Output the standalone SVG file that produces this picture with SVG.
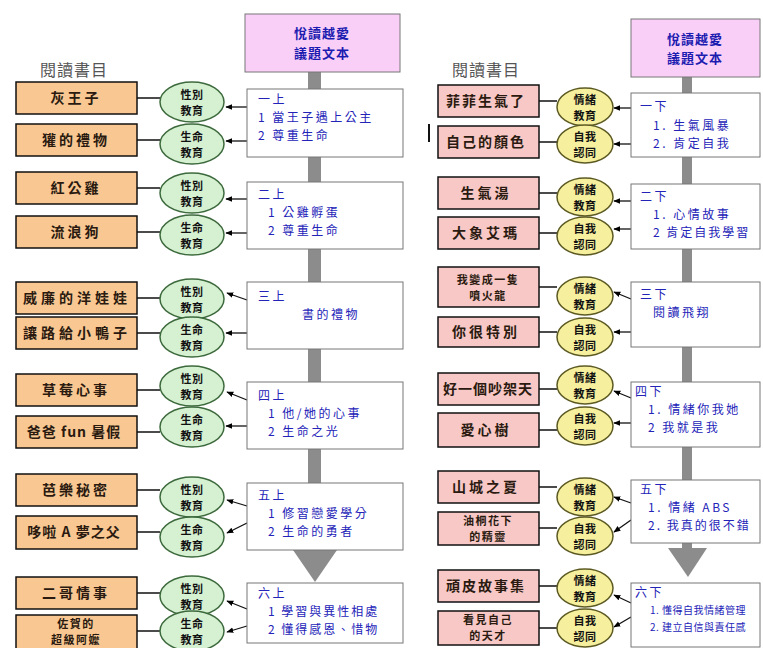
<svg xmlns="http://www.w3.org/2000/svg" width="763" height="648" viewBox="0 0 763 648">
<defs>
<marker id="ah" viewBox="0 0 10 10" refX="9" refY="5" markerWidth="7" markerHeight="7" markerUnits="userSpaceOnUse" orient="auto"><path d="M0,1 L10,5 L0,9 Z" fill="#000"/></marker>
<style>
text{font-family:"Noto Sans CJK TC","Noto Sans CJK SC",sans-serif}
.book{fill:#F9C792;stroke:#111;stroke-width:1.5}
.bookp{fill:#F8C8C6;stroke:#111;stroke-width:1.5}
.bt{font-size:14px;font-weight:bold;fill:#2a1a10;text-anchor:middle;letter-spacing:3px}
.b2{font-size:11px;font-weight:bold;fill:#2a1a10;text-anchor:middle;letter-spacing:1.5px}
.eg{fill:#D6F0D2;stroke:#3D6A3D;stroke-width:1.5}
.ey{fill:#F6F09E;stroke:#5C5A22;stroke-width:1.5}
.et{font-size:11px;font-weight:bold;fill:#111;text-anchor:middle;letter-spacing:0.5px}
.wb{fill:#fff;stroke:#777;stroke-width:1}
.wt{font-size:12px;fill:#2323B8;letter-spacing:2.5px}
.ws{font-size:10px;fill:#2323B8;letter-spacing:0.5px}
.top{fill:#F9CFF8;stroke:#777;stroke-width:1}
.tt{font-size:13px;font-weight:bold;fill:#1C1CB0;text-anchor:middle;letter-spacing:1px}
.hd{font-size:16px;fill:#555;letter-spacing:1px}
.ln{stroke:#111;stroke-width:1.3;fill:none}
.ar{stroke:#111;stroke-width:1.3;fill:none;marker-end:url(#ah)}
.bar{fill:#8C8C8C}
</style>
</defs>
<rect width="763" height="648" fill="#fff"/>

<g id="spine-left">
<rect class="bar" x="308" y="72" width="13" height="480"/>
<path class="bar" d="M293,550 L337,550 L315,582 Z"/>
</g>
<g id="spine-right">
<rect class="bar" x="682" y="77" width="10" height="473"/>
<path class="bar" d="M668,548 L707,548 L688,577 Z"/>
</g>

<text class="hd" x="40" y="76">閱讀書目</text>
<text class="hd" x="452" y="76">閱讀書目</text>
<rect x="428" y="124" width="2" height="18" fill="#111"/>

<g id="top-left"><rect class="top" x="245" y="14" width="155" height="58"/><text class="tt" x="322" y="38">悅讀越愛<tspan x="322" dy="20">議題文本</tspan></text></g>
<g id="top-right"><rect class="top" x="631" y="19" width="129" height="58"/><text class="tt" x="695" y="44">悅讀越愛<tspan x="695" dy="19">議題文本</tspan></text></g>

<g id="connectors">
<path class="ln" d="M137,98H160M137,140H160M137,188H160M137,232H160M137,298H160M137,333H160M137,390H160M137,432H160M137,490H160M137,532H160M137,593H160M137,631H160"/>
<path class="ar" d="M247,107H226"/><path class="ar" d="M247,141H226"/>
<path class="ar" d="M247,199H226"/><path class="ar" d="M247,233H226"/>
<path class="ar" d="M247,300L227,293"/><path class="ar" d="M247,333H226"/>
<path class="ar" d="M247,400L227,392"/><path class="ar" d="M247,426H226"/>
<path class="ar" d="M247,506L227,500"/><path class="ar" d="M247,523L227,533"/>
<path class="ar" d="M247,609L227,601"/><path class="ar" d="M247,626L227,632"/>
<path class="ln" d="M539,101H557M539,142H557M539,193H557M539,233H557M539,287H557M539,332H557M539,389H557M539,430H557M539,487H557M539,528H557M539,586H557M539,628H557"/>
<path class="ar" d="M631,108H614"/><path class="ar" d="M631,144H614"/>
<path class="ar" d="M631,201H614"/><path class="ar" d="M631,229H614"/>
<path class="ar" d="M631,299L614,292"/><path class="ar" d="M631,332H614"/>
<path class="ar" d="M631,398L614,391"/><path class="ar" d="M631,423H614"/>
<path class="ar" d="M631,503L614,497"/><path class="ar" d="M631,520L614,532"/>
<path class="ar" d="M631,603L614,595"/><path class="ar" d="M631,617L614,627"/>
</g>

<g id="b-l1"><rect class="book" x="16" y="82" width="121" height="32"/><text class="bt" x="76" y="103">灰王子</text></g>
<g id="b-l2"><rect class="book" x="16" y="124" width="121" height="32"/><text class="bt" x="76" y="145">獾的禮物</text></g>
<g id="b-l3"><rect class="book" x="16" y="172" width="121" height="32"/><text class="bt" x="76" y="193">紅公雞</text></g>
<g id="b-l4"><rect class="book" x="16" y="216" width="121" height="32"/><text class="bt" x="76" y="237">流浪狗</text></g>
<g id="b-l5"><rect class="book" x="16" y="282" width="121" height="32"/><text class="bt" x="77" y="303" style="letter-spacing:4px">威廉的洋娃娃</text></g>
<g id="b-l6"><rect class="book" x="16" y="317" width="121" height="32"/><text class="bt" x="77" y="338" style="letter-spacing:4px">讓路給小鴨子</text></g>
<g id="b-l7"><rect class="book" x="16" y="374" width="121" height="32"/><text class="bt" x="76" y="395">草莓心事</text></g>
<g id="b-l8"><rect class="book" x="16" y="416" width="121" height="32"/><text class="bt" x="74" y="437" style="letter-spacing:1px">爸爸 fun 暑假</text></g>
<g id="b-l9"><rect class="book" x="16" y="474" width="121" height="32"/><text class="bt" x="76" y="495">芭樂秘密</text></g>
<g id="b-l10"><rect class="book" x="16" y="516" width="121" height="33"/><text class="bt" x="74" y="537" style="letter-spacing:1px">哆啦 A 夢之父</text></g>
<g id="b-l11"><rect class="book" x="16" y="577" width="121" height="32"/><text class="bt" x="76" y="598">二哥情事</text></g>
<g id="b-l12"><rect class="book" x="16" y="615" width="121" height="40"/><text class="b2" x="76" y="628">佐賀的<tspan x="76" dy="16">超級阿嬤</tspan></text></g>

<g id="e-l1"><ellipse class="eg" cx="192" cy="102" rx="32" ry="20"/><text class="et" x="192" y="99">性別<tspan x="192" dy="16">教育</tspan></text></g>
<g id="e-l2"><ellipse class="eg" cx="192" cy="144" rx="32" ry="20"/><text class="et" x="192" y="141">生命<tspan x="192" dy="16">教育</tspan></text></g>
<g id="e-l3"><ellipse class="eg" cx="192" cy="193" rx="32" ry="20"/><text class="et" x="192" y="190">性別<tspan x="192" dy="16">教育</tspan></text></g>
<g id="e-l4"><ellipse class="eg" cx="192" cy="235" rx="32" ry="20"/><text class="et" x="192" y="232">生命<tspan x="192" dy="16">教育</tspan></text></g>
<g id="e-l5"><ellipse class="eg" cx="192" cy="299" rx="32" ry="20"/><text class="et" x="192" y="296">性別<tspan x="192" dy="16">教育</tspan></text></g>
<g id="e-l6"><ellipse class="eg" cx="192" cy="337" rx="32" ry="20"/><text class="et" x="192" y="334">生命<tspan x="192" dy="16">教育</tspan></text></g>
<g id="e-l7"><ellipse class="eg" cx="192" cy="386" rx="32" ry="20"/><text class="et" x="192" y="383">性別<tspan x="192" dy="16">教育</tspan></text></g>
<g id="e-l8"><ellipse class="eg" cx="192" cy="427" rx="32" ry="20"/><text class="et" x="192" y="424">生命<tspan x="192" dy="16">教育</tspan></text></g>
<g id="e-l9"><ellipse class="eg" cx="192" cy="497" rx="32" ry="20"/><text class="et" x="192" y="494">性別<tspan x="192" dy="16">教育</tspan></text></g>
<g id="e-l10"><ellipse class="eg" cx="192" cy="537" rx="32" ry="20"/><text class="et" x="192" y="534">生命<tspan x="192" dy="16">教育</tspan></text></g>
<g id="e-l11"><ellipse class="eg" cx="192" cy="596" rx="32" ry="20"/><text class="et" x="192" y="593">性別<tspan x="192" dy="16">教育</tspan></text></g>
<g id="e-l12"><ellipse class="eg" cx="192" cy="631" rx="32" ry="20"/><text class="et" x="192" y="628">生命<tspan x="192" dy="16">教育</tspan></text></g>

<g id="w-l1"><rect class="wb" x="247" y="89" width="156" height="68"/><text class="wt" x="258" y="104">一上</text><text class="wt" x="258" y="122">1 當王子遇上公主</text><text class="wt" x="258" y="140">2 尊重生命</text></g>
<g id="w-l2"><rect class="wb" x="247" y="182" width="156" height="67"/><text class="wt" x="258" y="199">二上</text><text class="wt" x="268" y="217">1 公雞孵蛋</text><text class="wt" x="268" y="235">2 尊重生命</text></g>
<g id="w-l3"><rect class="wb" x="247" y="282" width="156" height="67"/><text class="wt" x="258" y="301">三上</text><text class="wt" x="302" y="319">書的禮物</text></g>
<g id="w-l4"><rect class="wb" x="247" y="382" width="156" height="67"/><text class="wt" x="258" y="400">四上</text><text class="wt" x="268" y="418">1 他/她的心事</text><text class="wt" x="268" y="436">2 生命之光</text></g>
<g id="w-l5"><rect class="wb" x="247" y="483" width="156" height="67"/><text class="wt" x="258" y="500">五上</text><text class="wt" x="268" y="518">1 修習戀愛學分</text><text class="wt" x="268" y="536">2 生命的勇者</text></g>
<g id="w-l6"><rect class="wb" x="247" y="583" width="156" height="60"/><text class="wt" x="258" y="598">六上</text><text class="wt" x="268" y="616" style="letter-spacing:2px">1 學習與異性相處</text><text class="wt" x="268" y="634" style="letter-spacing:2px">2 懂得感恩、惜物</text></g>

<g id="b-r1"><rect class="bookp" x="438" y="85" width="101" height="32"/><text class="bt" x="486" y="106" style="letter-spacing:2px">菲菲生氣了</text></g>
<g id="b-r2"><rect class="bookp" x="438" y="126" width="101" height="32"/><text class="bt" x="486" y="147" style="letter-spacing:2px">自己的顏色</text></g>
<g id="b-r3"><rect class="bookp" x="438" y="177" width="101" height="32"/><text class="bt" x="486" y="198">生氣湯</text></g>
<g id="b-r4"><rect class="bookp" x="438" y="217" width="101" height="32"/><text class="bt" x="486" y="238">大象艾瑪</text></g>
<g id="b-r5"><rect class="bookp" x="438" y="267" width="101" height="40"/><text class="b2" x="488" y="284">我變成一隻<tspan x="488" dy="16">噴火龍</tspan></text></g>
<g id="b-r6"><rect class="bookp" x="438" y="317" width="101" height="30"/><text class="bt" x="486" y="337">你很特別</text></g>
<g id="b-r7"><rect class="bookp" x="438" y="373" width="101" height="32"/><text class="bt" x="488" y="394" style="letter-spacing:1px">好一個吵架天</text></g>
<g id="b-r8"><rect class="bookp" x="438" y="413" width="101" height="34"/><text class="bt" x="486" y="435">愛心樹</text></g>
<g id="b-r9"><rect class="bookp" x="438" y="471" width="101" height="32"/><text class="bt" x="486" y="492">山城之夏</text></g>
<g id="b-r10"><rect class="bookp" x="438" y="512" width="101" height="33"/><text class="b2" x="488" y="525">油桐花下<tspan x="488" dy="16">的精靈</tspan></text></g>
<g id="b-r11"><rect class="bookp" x="438" y="570" width="101" height="32"/><text class="bt" x="486" y="591" style="letter-spacing:2px">頑皮故事集</text></g>
<g id="b-r12"><rect class="bookp" x="438" y="611" width="101" height="34"/><text class="b2" x="488" y="624">看見自己<tspan x="488" dy="16">的天才</tspan></text></g>

<g id="e-r1"><ellipse class="ey" cx="585" cy="107" rx="28" ry="19"/><text class="et" x="585" y="104">情緒<tspan x="585" dy="16">教育</tspan></text></g>
<g id="e-r2"><ellipse class="ey" cx="585" cy="144" rx="28" ry="19"/><text class="et" x="585" y="141">自我<tspan x="585" dy="16">認同</tspan></text></g>
<g id="e-r3"><ellipse class="ey" cx="585" cy="197" rx="28" ry="19"/><text class="et" x="585" y="194">情緒<tspan x="585" dy="16">教育</tspan></text></g>
<g id="e-r4"><ellipse class="ey" cx="585" cy="236" rx="28" ry="19"/><text class="et" x="585" y="233">自我<tspan x="585" dy="16">認同</tspan></text></g>
<g id="e-r5"><ellipse class="ey" cx="585" cy="296" rx="28" ry="19"/><text class="et" x="585" y="293">情緒<tspan x="585" dy="16">教育</tspan></text></g>
<g id="e-r6"><ellipse class="ey" cx="585" cy="337" rx="28" ry="19"/><text class="et" x="585" y="334">自我<tspan x="585" dy="16">認同</tspan></text></g>
<g id="e-r7"><ellipse class="ey" cx="585" cy="385" rx="28" ry="19"/><text class="et" x="585" y="382">情緒<tspan x="585" dy="16">教育</tspan></text></g>
<g id="e-r8"><ellipse class="ey" cx="585" cy="426" rx="28" ry="19"/><text class="et" x="585" y="423">自我<tspan x="585" dy="16">認同</tspan></text></g>
<g id="e-r9"><ellipse class="ey" cx="585" cy="497" rx="28" ry="19"/><text class="et" x="585" y="494">情緒<tspan x="585" dy="16">教育</tspan></text></g>
<g id="e-r10"><ellipse class="ey" cx="585" cy="536" rx="28" ry="19"/><text class="et" x="585" y="533">自我<tspan x="585" dy="16">認同</tspan></text></g>
<g id="e-r11"><ellipse class="ey" cx="585" cy="588" rx="28" ry="19"/><text class="et" x="585" y="585">情緒<tspan x="585" dy="16">教育</tspan></text></g>
<g id="e-r12"><ellipse class="ey" cx="585" cy="628" rx="28" ry="19"/><text class="et" x="585" y="625">自我<tspan x="585" dy="16">認同</tspan></text></g>

<g id="w-r1"><rect class="wb" x="631" y="93" width="129" height="64"/><text class="wt" x="640" y="111">一下</text><text class="wt" x="653" y="130">1. 生氣風暴</text><text class="wt" x="653" y="148">2. 肯定自我</text></g>
<g id="w-r2"><rect class="wb" x="631" y="184" width="129" height="65"/><text class="wt" x="640" y="201">二下</text><text class="wt" x="653" y="219">1. 心情故事</text><text class="wt" x="653" y="237" style="letter-spacing:2px">2 肯定自我學習</text></g>
<g id="w-r3"><rect class="wb" x="631" y="282" width="129" height="65"/><text class="wt" x="640" y="299">三下</text><text class="wt" x="653" y="317">閱讀飛翔</text></g>
<g id="w-r4"><rect class="wb" x="631" y="382" width="129" height="65"/><text class="wt" x="635" y="396">四下</text><text class="wt" x="648" y="414">1. 情緒你我她</text><text class="wt" x="648" y="432">2 我就是我</text></g>
<g id="w-r5"><rect class="wb" x="631" y="480" width="129" height="63"/><text class="wt" x="640" y="494">五下</text><text class="wt" x="648" y="512">1. 情緒 ABS</text><text class="wt" x="648" y="530" style="letter-spacing:2px">2. 我真的很不錯</text></g>
<g id="w-r6"><rect class="wb" x="631" y="583" width="129" height="64"/><text class="wt" x="635" y="597">六下</text><text class="ws" x="650" y="614">1. 懂得自我情緒管理</text><text class="ws" x="650" y="631">2. 建立自信與責任感</text></g>
</svg>
